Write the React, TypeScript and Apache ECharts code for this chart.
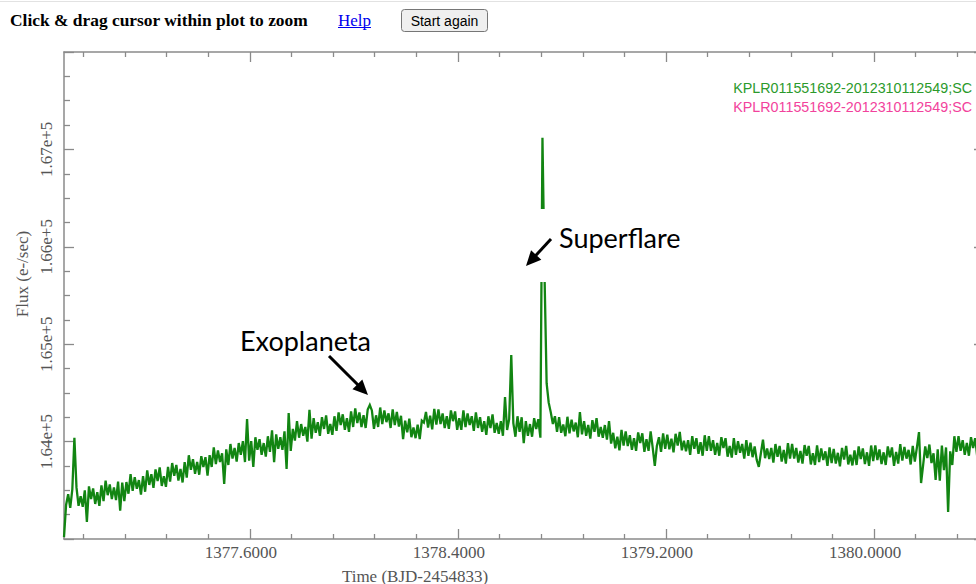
import React, { useEffect, useRef } from "react";
import * as echarts from "echarts";

// Kepler short-cadence light curve (one sample every CADENCE days)
const T0 = 1376.885;
const CADENCE = 0.008;
const flux: number[] = [
  163020, 163350, 163460, 163320, 163510, 164040, 163530, 163340, 163440, 163330,
  163500, 163175, 163540, 163410, 163520, 163360, 163480, 163340, 163550, 163390,
  163600, 163450, 163560, 163410, 163530, 163400, 163590, 163290, 163580, 163390,
  163585, 163465, 163665, 163495, 163635, 163515, 163605, 163455, 163645, 163485,
  163705, 163555, 163665, 163525, 163715, 163595, 163735, 163545, 163645, 163535,
  163740, 163590, 163780, 163650, 163760, 163600, 163720, 163580, 163790, 163630,
  163860, 163710, 163820, 163670, 163790, 163660, 163850, 163740, 163840, 163650,
  163860, 163740, 163940, 163770, 163910, 163790, 163880, 163565, 163920, 163760,
  163975, 163825, 163935, 163795, 163985, 163865, 164005, 163790, 164232, 163805,
  164005, 163740, 164045, 163915, 164025, 163865, 163985, 163845, 164055, 163895,
  164115, 163790, 164075, 163925, 164045, 163915, 164105, 163720, 164294, 163905,
  164130, 164010, 164210, 164040, 164180, 164060, 164150, 164000, 164325, 164030,
  164240, 164090, 164200, 164060, 164250, 164130, 164270, 164080, 164180, 164070,
  164260, 164110, 164300, 164170, 164280, 164120, 164240, 164100, 164310, 164150,
  164340, 164190, 164300, 164150, 164270, 164140, 164330, 164376, 164320, 164130,
  164270, 164150, 164350, 164180, 164320, 164200, 164290, 164140, 164330, 164170,
  164305, 164155, 164265, 164025, 164215, 164095, 164235, 164045, 164145, 164035,
  164175, 164025, 164215, 164195, 164305, 164145, 164265, 164125, 164335, 164175,
  164330, 164180, 164290, 164140, 164260, 164130, 164320, 164210, 164310, 164120,
  164240, 164120, 164320, 164150, 164290, 164170, 164260, 164110, 164300, 164140,
  164250, 164100, 164210, 164070, 164260, 164140, 164280, 164090, 164190, 164080,
  164210, 164060, 164458, 164120, 164230, 164890, 164190, 164050, 164260, 164100,
  164250, 163985, 164210, 164060, 164180, 164050, 164240, 164130, 164230, 164040,
  167120, 165700, 164600, 164400, 164300, 164180, 164260, 164100, 164250, 164090,
  164175, 164055, 164255, 164085, 164225, 164105, 164195, 164045, 164304, 164075,
  164210, 164060, 164170, 164030, 164220, 164100, 164240, 164050, 164150, 164040,
  164170, 164020, 164210, 163980, 164090, 163930, 164050, 163910, 164120, 163960,
  164105, 163955, 164065, 163915, 164035, 163905, 164095, 163985, 164085, 163895,
  164025, 163905, 164105, 163935, 163750, 163955, 164045, 163895, 164085, 163925,
  164070, 163920, 164030, 163890, 164080, 163960, 164100, 163910, 164010, 163900,
  164015, 163865, 164055, 163925, 164035, 163875, 163995, 163855, 164065, 163905,
  164055, 163905, 164015, 163865, 163985, 163855, 164045, 163935, 164035, 163845,
  163955, 163835, 164035, 163865, 164005, 163885, 163975, 163825, 164015, 163855,
  163990, 163840, 163950, 163810, 163740, 163880, 164020, 163830, 163930, 163820,
  163935, 163785, 163975, 163845, 163955, 163795, 163915, 163775, 163985, 163825,
  163975, 163825, 163935, 163785, 163905, 163775, 163965, 163855, 163955, 163765,
  163880, 163760, 163960, 163790, 163930, 163810, 163900, 163750, 163940, 163780,
  163925, 163775, 163885, 163745, 163935, 163815, 163955, 163765, 163865, 163755,
  163910, 163760, 163950, 163820, 163930, 163770, 163890, 163750, 163960, 163800,
  163960, 163810, 163920, 163770, 163890, 163760, 163950, 163840, 163940, 163750,
  163895, 163775, 163975, 163805, 163945, 163825, 163915, 163765, 163955, 163795,
  163940, 164098, 163575, 163760, 163950, 163830, 163970, 163780, 163880, 163606,
  163920, 163600, 163960, 163708, 163940, 163277, 163900, 163760, 164055, 163895,
  164055, 163905, 164015, 163865, 163985, 163855, 164045, 163935, 164035, 163845,
];

const xMajorTicks = [1377.6, 1378.4, 1379.2, 1380.0];
const xMinorTicks = [
  1376.96, 1377.12, 1377.28, 1377.44, 1377.76, 1377.92, 1378.08, 1378.24,
  1378.56, 1378.72, 1378.88, 1379.04, 1379.36, 1379.52, 1379.68, 1379.84,
  1380.16, 1380.32,
];
const yTickLabels = [164000, 165000, 166000, 167000];
const legendNames = ["KPLR011551692-2012310112549;SC", "KPLR011551692-2012310112549;SC"];
const legendColors = ["#2b9a2b", "#f2429c"];

const X_MIN = 1376.885;
const X_MAX = 1380.423;
const Y_MIN = 163000;
const Y_MAX = 168000;

const FRAME = "#8a8a8a";
const SERIF = "'Liberation Serif', 'Times New Roman', serif";
const SANS = "'Liberation Sans', Arial, sans-serif";
const CALLOUT = "Lato, 'Open Sans', sans-serif";

function arrow(tail: [number, number], tip: [number, number]) {
  const dx = tip[0] - tail[0];
  const dy = tip[1] - tail[1];
  const len = Math.hypot(dx, dy);
  const ux = dx / len;
  const uy = dy / len;
  const L = 15;
  const W = 7;
  const bx = tip[0] - ux * L;
  const by = tip[1] - uy * L;
  return [
    {
      type: "line",
      z: 110,
      shape: { x1: tail[0], y1: tail[1], x2: bx + ux * 2, y2: by + uy * 2 },
      style: { stroke: "#000", lineWidth: 3 },
    },
    {
      type: "polygon",
      z: 110,
      shape: {
        points: [
          [tip[0], tip[1]],
          [bx - uy * W, by + ux * W],
          [bx + uy * W, by - ux * W],
        ],
      },
      style: { fill: "#000" },
    },
  ];
}

export default function App() {
  const ref = useRef<HTMLDivElement>(null);

  useEffect(() => {
    if (!ref.current) return;
    const chart = echarts.init(ref.current, null, { renderer: "svg" });
    const data = flux.map((f, i) => [T0 + i * CADENCE, f]);

    const tickLine = { color: FRAME, width: 1.3 };
    const axisLine = { show: true, lineStyle: { color: FRAME, width: 1.5 } };
    const labelStyle = { fontFamily: SERIF, fontSize: 17, color: "#555" };

    const xBase = {
      type: "value",
      min: X_MIN,
      max: X_MAX,
      splitLine: { show: false },
      axisPointer: { show: false },
    };

    const option: any = {
      animation: false,
      backgroundColor: "#fff",
      grid: { left: 64, top: 52, width: 920, height: 487 },
      xAxis: [
        {
          ...xBase,
          position: "bottom",
          axisLine,
          axisTick: { show: true, inside: true, length: 10, lineStyle: tickLine, customValues: xMajorTicks },
          axisLabel: {
            ...labelStyle,
            margin: 5,
            padding: [0, 18, 0, 0],
            customValues: xMajorTicks,
            formatter: (v: number) => v.toFixed(4),
          },
        },
        {
          ...xBase,
          position: "bottom",
          axisLine: { show: false },
          axisTick: { show: true, inside: true, length: 5, lineStyle: tickLine, customValues: xMinorTicks },
          axisLabel: { show: false },
        },
        {
          ...xBase,
          position: "top",
          axisLine,
          axisTick: { show: true, inside: true, length: 10, lineStyle: tickLine, customValues: xMajorTicks },
          axisLabel: { show: false },
        },
        {
          ...xBase,
          position: "top",
          axisLine: { show: false },
          axisTick: { show: true, inside: true, length: 5, lineStyle: tickLine, customValues: xMinorTicks },
          axisLabel: { show: false },
        },
      ],
      yAxis: [
        {
          type: "value",
          position: "left",
          min: Y_MIN,
          max: Y_MAX,
          interval: 1000,
          axisLine,
          splitLine: { show: false },
          axisTick: { show: true, inside: true, length: 10, lineStyle: tickLine },
          minorTick: { show: true, splitNumber: 4, length: 6, lineStyle: tickLine },
          axisLabel: {
            ...labelStyle,
            rotate: 90,
            margin: 9,
            customValues: yTickLabels,
            formatter: (v: number) =>
              yTickLabels.indexOf(v) >= 0 ? (v / 1e5).toFixed(2) + "e+5" : "",
          },
        },
        {
          type: "value",
          position: "right",
          min: Y_MIN,
          max: Y_MAX,
          interval: 1000,
          axisLine,
          splitLine: { show: false },
          axisTick: { show: true, inside: true, length: 10, lineStyle: tickLine },
          minorTick: { show: true, splitNumber: 4, length: 6, lineStyle: tickLine },
          axisLabel: { show: false },
        },
      ],
      series: [
        {
          name: legendNames[0],
          type: "line",
          xAxisIndex: 0,
          yAxisIndex: 0,
          data,
          showSymbol: false,
          symbol: "none",
          clip: true,
          sampling: undefined,
          lineStyle: { color: "#128512", width: 2.3, join: "miter", miterLimit: 3 },
          z: 3,
        },
      ],
      graphic: [
        { type: "line", shape: { x1: 0, y1: 1.5, x2: 1000, y2: 1.5 }, style: { stroke: "#e2e2e2", lineWidth: 1 } },
        {
          type: "text",
          x: 10,
          y: 20,
          style: { text: "Click & drag cursor within plot to zoom", font: `bold 17.4px ${SERIF}`, fill: "#000", textAlign: "left", textVerticalAlign: "middle" },
        },
        {
          type: "text",
          x: 338,
          y: 20,
          style: { text: "Help", font: `17px ${SERIF}`, fill: "#0000ee", textAlign: "left", textVerticalAlign: "middle" },
        },
        { type: "line", shape: { x1: 338, y1: 27.5, x2: 371, y2: 27.5 }, style: { stroke: "#0000ee", lineWidth: 1 } },
        {
          type: "rect",
          shape: { x: 401.5, y: 9.5, width: 86, height: 22, r: 3 },
          style: { fill: "#efefef", stroke: "#767676", lineWidth: 1 },
        },
        {
          type: "text",
          x: 444.5,
          y: 20.5,
          style: { text: "Start again", font: `14px ${SANS}`, fill: "#000", textAlign: "center", textVerticalAlign: "middle" },
        },
        {
          type: "text",
          x: 972,
          y: 88,
          z: 50,
          style: { text: legendNames[0], font: `14.3px ${SANS}`, fill: legendColors[0], textAlign: "right", textVerticalAlign: "middle" },
        },
        {
          type: "text",
          x: 972,
          y: 107,
          z: 50,
          style: { text: legendNames[1], font: `14.3px ${SANS}`, fill: legendColors[1], textAlign: "right", textVerticalAlign: "middle" },
        },
        {
          type: "text",
          x: 415,
          y: 576,
          style: { text: "Time (BJD-2454833)", font: `17px ${SERIF}`, fill: "#555", textAlign: "center", textVerticalAlign: "middle" },
        },
        {
          type: "text",
          x: 22,
          y: 274,
          rotation: Math.PI / 2,
          style: { text: "Flux (e-/sec)", font: `17px ${SERIF}`, fill: "#555", textAlign: "center", textVerticalAlign: "middle" },
        },
        // white box behind the "Superflare" callout
        {
          type: "rect",
          z: 100,
          shape: { x: 516, y: 209, width: 175, height: 73 },
          style: { fill: "#fff" },
        },
        {
          type: "text",
          x: 559,
          y: 237,
          z: 110,
          style: { text: "Superflare", font: `27px ${CALLOUT}`, fill: "#000", textAlign: "left", textVerticalAlign: "middle" },
        },
        ...arrow([551, 239], [526, 266]),
        {
          type: "text",
          x: 240,
          y: 340,
          z: 110,
          style: { text: "Exoplaneta", font: `27px ${CALLOUT}`, fill: "#000", textAlign: "left", textVerticalAlign: "middle" },
        },
        ...arrow([329, 356], [368, 395]),
      ],
    };

    chart.setOption(option);
    return () => chart.dispose();
  }, []);

  return (
    <div
      style={{
        position: "fixed",
        left: 0,
        top: 0,
        width: 976,
        height: 584,
        overflow: "hidden",
        background: "#fff",
      }}
    >
      <div ref={ref} style={{ width: 1000, height: 584 }} />
    </div>
  );
}
